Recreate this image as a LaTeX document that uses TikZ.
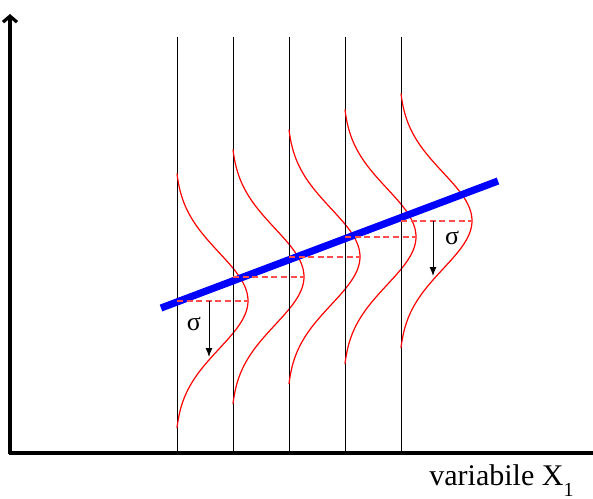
\documentclass[tikz,border=0pt]{standalone}
\usepackage{fontspec}
\setmainfont{Liberation Serif}
\usetikzlibrary{arrows.meta}
\definecolor{dashred}{rgb}{1, 0.3, 0.3}
\tikzset{
    axis/.style={line width=1.6pt},
    guide/.style={line width=0.5pt},
    density/.style={red, line width=0.6pt},
    regline/.style={blue, line width=3.6pt},
    meanline/.style={dashred, line width=0.9pt, dash pattern=on 3pt off 1.8pt},
    sigarrow/.style={line width=0.5pt, -{Latex[length=4.5pt,width=3.5pt]}},
    lbl/.style={font=\fontsize{13}{15}\selectfont, inner sep=0pt},
    axlbl/.style={font=\fontsize{15}{18}\selectfont, inner sep=0pt},
}
\begin{document}
\begin{tikzpicture}[x=0.5pt, y=-0.5pt]
    \useasboundingbox (0,0) rectangle (593,498);
    % axes
    \draw[axis, -{Straight Barb[length=3pt,width=7pt]}] (10,454) -- (10,14);
    \draw[axis] (9,453) -- (593,453);
    % verticals and densities
    \foreach \xi/\yc in {177/300.7, 233/276.7, 289/256.7, 345/236.7, 401/220.7} {
        \draw[guide] (\xi,37) -- (\xi,453);
        \draw[density] plot[smooth, domain=-2.65:2.65, samples=60, variable=\t]
            ({\xi+71*(exp(-\t*\t/2)-0.03)/0.97}, {\yc+48*\t});
    }
    \draw[regline] (161,308) -- (498,181);
    \foreach \xi/\yc in {177/300.7, 233/276.7, 289/256.7, 345/236.7, 401/220.7} {
        \draw[meanline] (\xi,\yc) -- ++(71,0);
    }
    % sigma
    \coordinate (s1top) at (209,301);
    \coordinate (s1bot) at (209,357);
    \coordinate (s2top) at (433,221);
    \coordinate (s2bot) at (433,276);
    \draw[sigarrow] (s1top) -- (s1bot);
    \draw[sigarrow] (s2top) -- (s2bot);
    \node[lbl] (sig1) at (194,324) {σ};
    \node[lbl] (sig2) at (452,238) {σ};
    \node[axlbl, anchor=base west] (xlab) at (429,485)
        {variabile X\raisebox{-5.5pt}{\fontsize{10}{12}\selectfont 1}};
\end{tikzpicture}
\end{document}
